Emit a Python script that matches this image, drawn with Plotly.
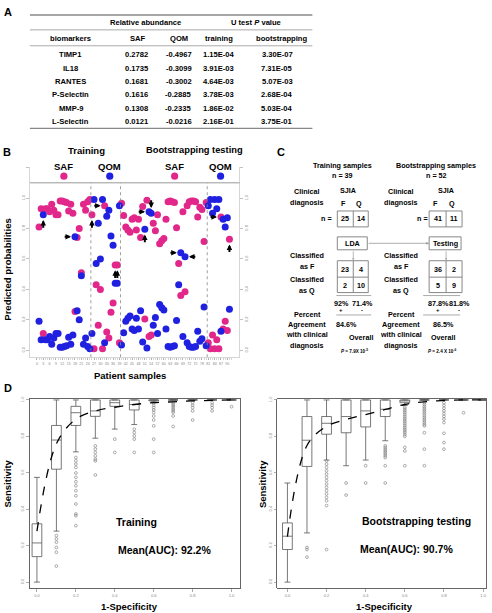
import plotly.graph_objects as go

W, H = 492, 613
FONT = "Liberation Sans, Arial, Helvetica, sans-serif"
MAG = "#E2278B"
BLU = "#2020E0"

# ---------------- Panel A data ----------------
biomarkers = ["TIMP1", "IL18", "RANTES", "P-Selectin", "MMP-9", "L-Selectin"]
saf_abund = [0.2782, 0.1735, 0.1681, 0.1616, 0.1308, 0.0121]
qom_abund = [-0.4967, -0.3099, -0.3002, -0.2885, -0.2335, -0.0216]
p_training = [1.15e-04, 3.91e-03, 4.64e-03, 3.78e-03, 1.86e-02, 2.16e-01]
p_boot = [3.30e-07, 7.31e-05, 5.07e-03, 2.68e-04, 5.03e-04, 3.75e-01]

# ---------------- Panel B data ----------------
group_sizes = [25, 14, 41, 11]  # training SAF, training QOM, testing SAF, testing QOM
p_saf = [0.81, 0.93, 0.11, 0.93, 0.93, 0.91, 0.96, 0.92, 0.89, 0.89,
         0.98, 0.98, 0.975, 0.97, 0.915, 0.96, 0.90, 0.255, 0.74, 0.80,
         0.51, 0.96, 0.92, 0.975, 0.99, 0.89, 0.01, 0.43, 0.165, 0.40,
         0.01, 0.95, 0.12, 0.08, 0.25, 0.31, 0.56, 0.56, 0.05, 0.965,
         0.885, 0.81, 0.79, 0.775, 0.86, 0.87, 0.79, 0.86, 0.74, 0.945,
         0.205, 0.985, 0.09, 0.10, 0.835, 0.785, 0.89, 0.70, 0.72, 0.735,
         0.86, 0.975, 0.98, 0.975, 0.97, 0.805, 0.57, 0.36, 0.91, 0.385,
         0.95, 0.975, 0.98, 0.98, 0.975, 0.875, 0.94, 0.925, 0.715, 0.97,
         0.05, 0.01, 0.10, 0.01, 0.07, 0.01, 0.875, 0.14, 0.19, 0.13, 0.73]
p_qom = [0.19, 0.07, 0.89, 0.07, 0.07, 0.09, 0.04, 0.08, 0.11, 0.11,
         0.02, 0.02, 0.025, 0.03, 0.085, 0.04, 0.10, 0.745, 0.26, 0.20,
         0.49, 0.04, 0.08, 0.025, 0.01, 0.11, 0.99, 0.57, 0.835, 0.60,
         0.99, 0.05, 0.88, 0.92, 0.75, 0.69, 0.44, 0.44, 0.95, 0.035,
         0.115, 0.19, 0.21, 0.225, 0.14, 0.13, 0.21, 0.14, 0.26, 0.055,
         0.795, 0.015, 0.91, 0.90, 0.165, 0.215, 0.11, 0.30, 0.28, 0.265,
         0.14, 0.025, 0.02, 0.025, 0.03, 0.195, 0.43, 0.64, 0.09, 0.615,
         0.05, 0.025, 0.02, 0.02, 0.025, 0.125, 0.06, 0.075, 0.285, 0.03,
         0.95, 0.99, 0.90, 0.99, 0.93, 0.99, 0.125, 0.86, 0.81, 0.87, 0.27]
misclassified = [(3, "up"), (18, "right"), (26, "up"), (32, "right"), (37, "up"),
                 (38, "up"), (51, "up"), (53, "right"), (54, "down"), (68, "right"),
                 (70, "left"), (87, "right"), (91, "up")]
x_tick_labels = list(range(0, 91, 3))

# ---------------- Panel C data ----------------
train_clinical = [25, 14]
train_as_F = [23, 4]
train_as_Q = [2, 10]
boot_clinical = [41, 11]
boot_as_F = [36, 2]
boot_as_Q = [5, 9]
train_p_text = "7.9X 10<sup>-5</sup>"
boot_p_text = "2.4 X 10<sup>-6</sup>"

# ---------------- Panel D data ----------------
fpr = [0.0, 0.1, 0.2, 0.3, 0.4, 0.5, 0.6, 0.7, 0.8, 0.9, 1.0]
train_q1 = [0.14, 0.62, 0.86, 0.91, 0.965, 0.945, 0.995, 1.0, 1.0, 1.0, 1.0]
train_med = [0.215, 0.78, 0.93, 0.94, 0.985, 0.975, 1.0, 1.0, 1.0, 1.0, 1.0]
train_q3 = [0.32, 0.86, 0.965, 1.0, 1.0, 1.0, 1.0, 1.0, 1.0, 1.0, 1.0]
train_lo = [0.0, 0.28, 0.715, 0.79, 0.84, 0.865, 0.99, 1.0, 1.0, 1.0, 1.0]
train_hi = [0.575, 1.0, 1.0, 1.0, 1.0, 1.0, 1.0, 1.0, 1.0, 1.0, 1.0]
train_out = [[], [0.255, 0.237, 0.219, 0.19, 0.164, 0.088],
             [0.684, 0.666, 0.648, 0.63, 0.599, 0.575, 0.551, 0.529, 0.502, 0.474, 0.429, 0.374, 0.365, 0.31],
             [0.748, 0.73, 0.712, 0.693, 0.675, 0.666, 0.588], [0.785, 0.712],
             [0.839, 0.821, 0.803, 0.785, 0.712],
             [0.985, 0.971, 0.958, 0.945, 0.931, 0.912, 0.89, 0.858, 0.785, 0.712],
             [0.985, 0.976, 0.967, 0.958, 0.949, 0.94, 0.931, 0.912, 0.854],
             [0.985, 0.971, 0.958, 0.94, 0.89], [0.985, 0.971, 0.958, 0.94], [0.963]]
train_mean = [0.28, 0.76, 0.895, 0.94, 0.96, 0.975, 0.985, 0.99, 0.995, 0.998, 1.0]

test_q1 = [0.179, 0.635, 0.812, 0.82, 0.852, 0.909, 0.985, 1.0, 1.0, 1.0, 1.0]
test_med = [0.252, 0.779, 0.872, 0.909, 0.94, 0.949, 1.0, 1.0, 1.0, 1.0, 1.0]
test_q3 = [0.325, 0.909, 0.909, 1.0, 1.0, 1.0, 1.0, 1.0, 1.0, 1.0, 1.0]
test_lo = [0.0, 0.27, 0.67, 0.639, 0.67, 0.776, 0.97, 1.0, 1.0, 1.0, 1.0]
test_hi = [0.544, 1.0, 1.0, 1.0, 1.0, 1.0, 1.0, 1.0, 1.0, 1.0, 1.0]
test_out = [[], [0.19, 0.179, 0.137],
            [0.666, 0.648, 0.63, 0.611, 0.593, 0.575, 0.557, 0.538, 0.52, 0.502, 0.484, 0.465, 0.447, 0.42, 0.179],
            [0.544, 0.478], [0.639, 0.544],
            [0.748, 0.739, 0.73, 0.72, 0.712, 0.703, 0.693, 0.684, 0.639, 0.544],
            [0.96, 0.95, 0.94, 0.93, 0.92, 0.91, 0.9, 0.89, 0.88, 0.87, 0.86, 0.85, 0.84, 0.83, 0.82, 0.81, 0.8, 0.74, 0.72, 0.639],
            [0.985, 0.975, 0.965, 0.955, 0.945, 0.935, 0.925, 0.915, 0.905, 0.895, 0.885, 0.875, 0.865, 0.858, 0.82, 0.73, 0.639],
            [0.985, 0.97, 0.955, 0.94, 0.925, 0.91, 0.895, 0.876, 0.817, 0.766, 0.73], [0.93], []]
test_mean = [0.25, 0.75, 0.855, 0.893, 0.92, 0.948, 0.975, 0.99, 0.997, 1.0, 1.0]

# =====================================================================
annotations = []
shapes = []


def X(px):
    return px / W


def Y(py):
    return 1 - py / H


def text(s, px, py, size, bold=True, angle=0, color="black", xanchor="center"):
    annotations.append(dict(text=f"<b>{s}</b>" if bold else s, x=X(px), y=Y(py),
                            xref="paper", yref="paper", showarrow=False, textangle=angle,
                            xanchor=xanchor, yanchor="middle",
                            font=dict(family=FONT, size=size, color=color)))


def hline(x0, x1, py, color="#888", width=1.0):
    shapes.append(dict(type="line", xref="paper", yref="paper", x0=X(x0), x1=X(x1),
                       y0=Y(py), y1=Y(py), line=dict(color=color, width=width)))


def vline(px, y0, y1, color="#888", width=1.0):
    shapes.append(dict(type="line", xref="paper", yref="paper", x0=X(px), x1=X(px),
                       y0=Y(y0), y1=Y(y1), line=dict(color=color, width=width)))


def rect(x0, x1, y0, y1, color="#888", width=1.0):
    shapes.append(dict(type="rect", xref="paper", yref="paper", x0=X(x0), x1=X(x1),
                       y0=Y(y1), y1=Y(y0), line=dict(color=color, width=width)))


def paper_arrow(x0, y0, x1, y1, color="#999", width=0.8, size=0.8):
    # tail (x0, y0) -> tip (x1, y1), pixel offsets for the tail
    annotations.append(dict(text="", x=X(x1), y=Y(y1), ax=x0 - x1, ay=y0 - y1,
                            xref="paper", yref="paper", axref="pixel", ayref="pixel",
                            showarrow=True, arrowhead=2, arrowsize=size,
                            arrowwidth=width, arrowcolor=color))


fig = go.Figure()

# ---------------- Panel A: table ----------------
text("A", 8, 9, 11)
TS = 7.6
hline(30, 313, 12, "#888", 1.4)
text("Relative abundance", 146, 20, TS)
text("U test <i>P</i> value", 257, 20, TS)
hline(30, 313, 27, "#aaa", 1.0)
col_x = [71, 137, 179, 219, 278]
headers = ["biomarkers", "SAF", "QOM", "training", "bootstrapping"]
for cx, hd in zip(col_x, headers):
    text(hd, cx + (1 if hd == "SAF" else 0) + (4 if hd == "bootstrapping" else 0), 36, TS)
hline(30, 313, 43, "#aaa", 1.0)
for k, name in enumerate(biomarkers):
    ry = 52 + 13.4 * k
    vals = [name, f"{saf_abund[k]:.4f}", f"{qom_abund[k]:.4f}",
            f"{p_training[k]:.2E}", f"{p_boot[k]:.2E}"]
    for cx, v in zip(col_x, vals):
        text(v, cx, ry, TS)
hline(30, 313, 126, "#888", 1.4)

# ---------------- Panel B: predicted probabilities ----------------
patients = list(range(1, len(p_saf) + 1))
fig.add_trace(go.Scatter(x=patients, y=p_saf, mode="markers", xaxis="x", yaxis="y",
                         marker=dict(color=MAG, size=7), cliponaxis=False, hoverinfo="skip"))
fig.add_trace(go.Scatter(x=patients, y=p_qom, mode="markers", xaxis="x", yaxis="y",
                         marker=dict(color=BLU, size=7), cliponaxis=False, hoverinfo="skip"))
fig.add_trace(go.Scatter(x=[0], y=[0], mode="markers", xaxis="x", yaxis="y2",
                         marker=dict(opacity=0), hoverinfo="skip"))

# group boundary dotted lines
bnd = 0
for g in group_sizes[:-1]:
    bnd += g
    shapes.append(dict(type="line", xref="x", yref="y", x0=bnd + 0.5, x1=bnd + 0.5,
                       y0=-0.0458, y1=1.1, line=dict(color="#888", width=0.8, dash="dot")))
# top separating line
shapes.append(dict(type="line", xref="x domain", yref="y", x0=0, x1=1, y0=1.1, y1=1.1,
                   line=dict(color="#999", width=1)))

# arrows to misclassified samples
for pid, d in misclassified:
    top = max(p_saf[pid - 1], p_qom[pid - 1])
    if d == "up":
        tip, tail = (pid, top - 0.035), (pid, top - 0.095)
    elif d == "down":
        tip, tail = (pid, top + 0.035), (pid, top + 0.095)
    elif d == "right":
        tip, tail = (pid - 1.9, top), (pid - 5.6, top)
    else:
        tip, tail = (pid + 1.9, top), (pid + 5.6, top)
    annotations.append(dict(text="", x=tip[0], y=tip[1], ax=tail[0], ay=tail[1],
                            xref="x", yref="y", axref="x", ayref="y", showarrow=True,
                            arrowhead=2, arrowsize=0.55, arrowwidth=2.0, arrowcolor="black"))

text("B", 7, 150, 11)
text("Training", 87, 148, 9.5)
text("Bootstrapping testing", 195, 148, 9.3)
for lbl, px, col in [("SAF", 64, MAG), ("QOM", 110, BLU), ("SAF", 175, MAG), ("QOM", 221, BLU)]:
    text(lbl, px, 164, 9.5)
    shapes.append(dict(type="circle", xref="paper", yref="paper", x0=X(px - 3.6), x1=X(px + 3.6),
                       y0=Y(174 + 3.6), y1=Y(174 - 3.6), fillcolor=col, line=dict(width=0)))
text("Predicted probabilities", 8, 268, 9.5, angle=-90)
text("Patient samples", 130, 374, 9.5)

# ---------------- Panel C: diagram ----------------
text("C", 282, 150, 11)
CS = 7.2
panels = [
    dict(title="Training samples", tx=343, clin=train_clinical, asF=train_as_F, asQ=train_as_Q,
         lab=308, neq=327, bx0=338, bx1=369, bdiv=354, box_label="LDA", ptxt=train_p_text,
         pc=[342, 363], ovx=347, ovl=362, px=355, lx0=337, lx1=372, sj=349),
    dict(title="Bootstrapping samples", tx=437, clin=boot_clinical, asF=boot_as_F, asQ=boot_as_Q,
         lab=402, neq=423, bx0=430, bx1=463, bdiv=447, box_label="Testing", ptxt=boot_p_text,
         pc=[439, 460], ovx=444, ovl=444, px=443, lx0=424, lx1=461, sj=447),
]


def fmt(v):
    s = f"{v:.1f}"
    return (s[:-2] if s.endswith(".0") else s) + "%"


for pn in panels:
    n_total = sum(pn["clin"])
    text(pn["title"], pn["tx"], 163, CS)
    text(f"n = {n_total}", pn["tx"], 173, CS)
    text("Clinical", pn["lab"], 189, CS)
    text("diagnosis", pn["lab"], 200, CS)
    text("SJIA", pn["sj"], 188, CS)
    c0 = (pn["bx0"] + pn["bdiv"]) / 2
    c1 = (pn["bdiv"] + pn["bx1"]) / 2
    text("F", c0 - 2, 201, CS)
    text("Q", c1 - 2, 201, CS)
    text("n =", pn["neq"], 217, CS)
    rect(pn["bx0"], pn["bx1"], 209, 225)
    vline(pn["bdiv"], 209, 225)
    text(str(pn["clin"][0]), c0, 217, CS)
    text(str(pn["clin"][1]), c1, 217, CS)
    rect(pn["bx0"], pn["bx1"] - 1, 235, 248)
    text(pn["box_label"], (pn["bx0"] + pn["bx1"]) / 2, 241.5, CS)
    paper_arrow(pn["bdiv"], 248, pn["bdiv"], 258.5, "#999", 0.7, 0.6)
    text("Classified", pn["lab"], 254, CS)
    text("as F", pn["lab"], 265, CS)
    text("Classified", pn["lab"], 278, CS)
    text("as Q", pn["lab"], 288.5, CS)
    rect(pn["bx0"], pn["bx1"], 259, 291)
    hline(pn["bx0"], pn["bx1"], 275.5)
    vline(pn["bdiv"], 259, 291)
    text(str(pn["asF"][0]), c0, 267.5, CS)
    text(str(pn["asF"][1]), c1, 267.5, CS)
    text(str(pn["asQ"][0]), c0, 283.5, CS)
    text(str(pn["asQ"][1]), c1, 283.5, CS)
    hline(pn["lx0"], pn["lx1"], 294, "#aaa", 1)
    sens = 100 * pn["asF"][0] / pn["clin"][0]
    spec = 100 * pn["asQ"][1] / pn["clin"][1]
    overall = 100 * (pn["asF"][0] + pn["asQ"][1]) / n_total
    text(fmt(sens), pn["pc"][0], 301.5, CS)
    text(fmt(spec), pn["pc"][1], 301.5, CS)
    text("+", pn["pc"][0], 308.5, 6)
    text("-", pn["pc"][1], 308.5, 6)
    hline(pn["lx0"], pn["lx1"], 313.5, "#aaa", 1)
    text("Percent", pn["lab"], 313, CS)
    text("Agreement", pn["lab"], 323, CS)
    text("with clinical", pn["lab"], 333.5, CS)
    text("diagnosis", pn["lab"], 344, CS)
    text(fmt(overall), pn["ovx"], 323, CS)
    text("Overall", pn["ovl"], 336, CS)
    text("<i>P</i> = " + pn["ptxt"], pn["px"], 350, 4.6)
paper_arrow(368, 241.5, 430, 241.5, "#999", 0.8, 0.7)

# ---------------- Panel D: ROC boxplots ----------------
for xa, ya, q1, md, q3, lo, hi, outs, mean in [
        ("x3", "y3", train_q1, train_med, train_q3, train_lo, train_hi, train_out, train_mean),
        ("x4", "y4", test_q1, test_med, test_q3, test_lo, test_hi, test_out, test_mean)]:
    fig.add_trace(go.Box(x=fpr, q1=q1, median=md, q3=q3, lowerfence=lo, upperfence=hi,
                         xaxis=xa, yaxis=ya, width=0.05, whiskerwidth=0.6,
                         fillcolor="white", line=dict(color="#555", width=0.8),
                         boxpoints=False, hoverinfo="skip"))
    ox, oy = [], []
    for f, lst in zip(fpr, outs):
        ox += [f] * len(lst)
        oy += lst
    fig.add_trace(go.Scatter(x=ox, y=oy, mode="markers", xaxis=xa, yaxis=ya,
                             marker=dict(symbol="circle-open", size=2.8, color="#777",
                                         line=dict(width=0.6)), hoverinfo="skip"))
    fig.add_trace(go.Scatter(x=fpr, y=mean, mode="lines", xaxis=xa, yaxis=ya,
                             line=dict(color="black", width=1.3, dash="dash", shape="spline"),
                             hoverinfo="skip"))

text("D", 8, 387, 11)
text("Sensitivity", 8, 483, 9.5, angle=-90)
text("1-Specificity", 130, 606, 9.5)
text("Training", 137, 522, 10.5)
text("Mean(AUC): 92.2%", 165, 550, 10.5)
text("Sensitivity", 263, 483, 9.5, angle=-90)
text("1-Specificity", 385, 606, 9.5)
text("Bootstrapping testing", 417, 521, 10.5)
text("Mean(AUC): 90.7%", 407, 549, 10.5)

# ---------------- Axes ----------------
yt = [0, 0.2, 0.4, 0.6, 0.8, 1.0]
ytl = ["0.0", "0.2", "0.4", "0.6", "0.8", "1.0"]
small = dict(family=FONT, size=4, color="#888")

roc_x_common = dict(tickvals=yt, ticktext=ytl, ticks="outside", ticklen=3, tickwidth=0.6,
                    tickcolor="#777", tickfont=small, showline=True, mirror=True,
                    linecolor="#555", linewidth=0.9, showgrid=False, zeroline=False)
roc_y_common = dict(tickvals=yt, ticktext=ytl, tickangle=-90, ticks="outside", ticklen=3,
                    tickwidth=0.6, tickcolor="#777", tickfont=small, showline=True,
                    mirror=True, linecolor="#555", linewidth=0.9, showgrid=False,
                    zeroline=False, range=[-0.033, 1.005], domain=[Y(588), Y(398)])

fig.update_layout(
    width=W, height=H, margin=dict(l=0, r=0, t=0, b=0),
    paper_bgcolor="white", plot_bgcolor="white", showlegend=False,
    font=dict(family=FONT),
    xaxis=dict(domain=[X(30), X(240)], range=[-3.3, 95.76], anchor="y",
               tickvals=x_tick_labels, ticks="outside", ticklen=2.5, tickwidth=0.6,
               tickcolor="#999", tickfont=dict(family=FONT, size=3.6, color="#888"),
               minor=dict(tickmode="array", tickvals=list(range(0, 93)), ticks="outside",
                          ticklen=2, tickwidth=0.5, tickcolor="#aaa"),
               showline=True, linecolor="#bbb", linewidth=0.6,
               showgrid=False, zeroline=False),
    yaxis=dict(domain=[Y(356), Y(165)], range=[-0.0458, 1.2026], anchor="x",
               tickvals=yt + [1.2], ticktext=ytl + [""], tickangle=-90, ticks="outside",
               ticklen=3, tickwidth=0.6, tickcolor="#999", tickfont=small,
               showline=True, linecolor="#bbb", linewidth=0.6, showgrid=False, zeroline=False),
    yaxis2=dict(overlaying="y", side="right", anchor="x", range=[-0.0458, 1.2026],
                tickvals=yt + [1.2], ticktext=ytl + [""], tickangle=-90, ticks="outside",
                ticklen=3, tickwidth=0.6, tickcolor="#999", tickfont=small,
                showline=True, linecolor="#bbb", linewidth=0.6, showgrid=False, zeroline=False),
    xaxis3=dict(domain=[X(30), X(241)], range=[-0.036, 1.046], anchor="y3", **roc_x_common),
    yaxis3=dict(anchor="x3", **roc_y_common),
    xaxis4=dict(domain=[X(278), X(487)], range=[-0.051, 1.015], anchor="y4", **roc_x_common),
    yaxis4=dict(anchor="x4", **roc_y_common),
    annotations=annotations, shapes=shapes,
)

fig.write_html("out.html",
               config={"displayModeBar": False, "staticPlot": True},
               post_script="document.body.style.margin='0';document.body.style.padding='0';"
                           "document.documentElement.style.overflow='hidden';")
